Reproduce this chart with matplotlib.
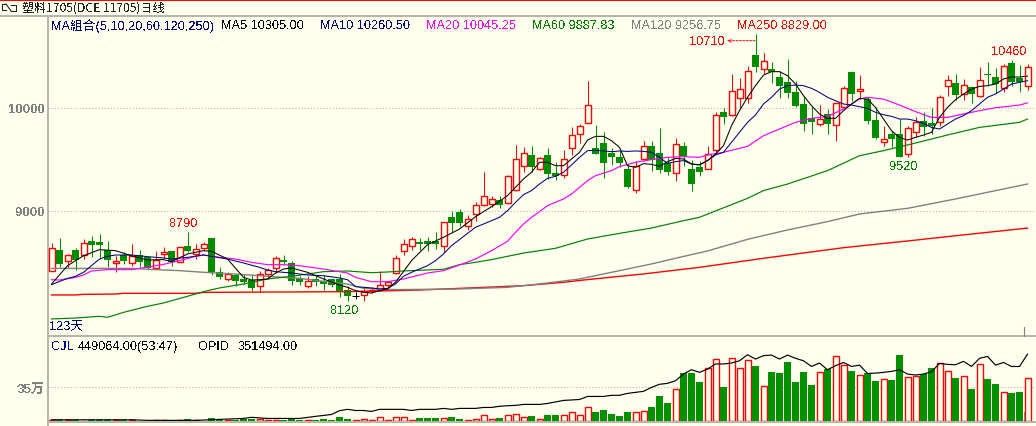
import matplotlib
matplotlib.use("Agg")
import matplotlib.pyplot as plt
from matplotlib.lines import Line2D

W, H = 1036, 427
BG = "#ffffee"
RED = "#ff0000"
GREEN = "#008e00"
NAVY = "#000080"
GRAY = "#808080"
MAGENTA = "#ff00ff"
LINE_GREEN = "#008000"
FRAME = "#b4b4ac"
THIN = 0.72  # about one pixel at dpi 100

plt.rcParams["font.family"] = ["Liberation Sans", "Noto Sans CJK SC", "DejaVu Sans"]
plt.rcParams["text.antialiased"] = False

# daily candles
opens = [8416, 8616, 8506, 8616, 8568, 8704, 8694, 8613, 8487, 8571, 8493, 8571, 8552, 8438, 8581, 8607, 8503, 8655, 8581, 8639,
         8730, 8400, 8335, 8377, 8335, 8325, 8264, 8380, 8438, 8519, 8487, 8341, 8270, 8332, 8312, 8335, 8335, 8231, 8173, 8183,
         8218, 8225, 8280, 8390, 8610, 8659, 8694, 8701, 8701, 8652, 8937, 8982, 8846, 8963, 9057, 9060, 9099, 9070, 9196, 9429,
         9539, 9400, 9539, 9364, 9348, 9604, 9740, 9846, 9607, 9655, 9558, 9519, 9403, 9196, 9503, 9626, 9555, 9461, 9361, 9623,
         9403, 9422, 9400, 9584, 9956, 9924, 10089, 10095, 10513, 10370, 10374, 10293, 10247, 10150, 10034, 9895, 9843, 9937, 9833, 10001,
         10345, 10157, 10082, 9879, 9668, 9739, 9743, 9545, 9765, 9866, 9849, 9856, 10212, 10238, 10134, 10199, 10115, 10325, 10296, 10192,
         10432, 10286, 10212]
highs = [8684, 8733, 8578, 8633, 8723, 8756, 8772, 8701, 8561, 8594, 8675, 8620, 8552, 8604, 8649, 8607, 8642, 8790, 8675, 8697,
         8730, 8448, 8406, 8383, 8383, 8383, 8416, 8438, 8555, 8568, 8513, 8367, 8361, 8361, 8374, 8335, 8383, 8264, 8206, 8254,
         8254, 8409, 8319, 8568, 8723, 8743, 8733, 8740, 8788, 8892, 8998, 9015, 8956, 9079, 9371, 9144, 9138, 9345, 9636, 9613,
         9629, 9519, 9604, 9468, 9587, 9811, 9840, 10257, 9830, 9762, 9604, 9581, 9451, 9484, 9675, 9675, 9798, 9516, 9701, 9668,
         9494, 9477, 9623, 9953, 9995, 10325, 10283, 10400, 10710, 10529, 10438, 10357, 10471, 10260, 10115, 10001, 10024, 9985, 10040, 10212,
         10357, 10319, 10099, 10001, 9824, 9775, 9888, 9824, 9904, 9960, 9995, 10125, 10315, 10325, 10277, 10212, 10390, 10445, 10380, 10422,
         10460, 10412, 10422]
lows = [8416, 8455, 8442, 8426, 8529, 8545, 8529, 8448, 8406, 8481, 8464, 8448, 8432, 8432, 8536, 8464, 8497, 8594, 8529, 8604,
        8374, 8335, 8316, 8270, 8286, 8222, 8205, 8335, 8393, 8474, 8277, 8277, 8244, 8264, 8231, 8254, 8163, 8125, 8141, 8120,
        8199, 8219, 8254, 8384, 8571, 8620, 8620, 8610, 8626, 8600, 8795, 8853, 8814, 8901, 9040, 9031, 9028, 9063, 9189, 9371,
        9371, 9396, 9306, 9299, 9319, 9539, 9659, 9846, 9552, 9316, 9442, 9419, 9219, 9173, 9484, 9387, 9364, 9345, 9290, 9435,
        9193, 9338, 9400, 9571, 9840, 9921, 9998, 10044, 10348, 10325, 10238, 10092, 10092, 10001, 9775, 9743, 9824, 9743, 9678, 9985,
        10066, 10082, 9840, 9694, 9623, 9613, 9519, 9520, 9710, 9726, 9743, 9824, 10115, 10076, 10076, 10044, 10099, 10205, 10141, 10154,
        10212, 10154, 10170]
closes = [8633, 8481, 8568, 8519, 8681, 8665, 8665, 8519, 8506, 8510, 8555, 8500, 8438, 8523, 8594, 8503, 8642, 8607, 8629, 8672,
          8400, 8354, 8380, 8316, 8306, 8251, 8387, 8426, 8536, 8500, 8319, 8303, 8316, 8309, 8283, 8277, 8218, 8173, 8173, 8222,
          8230, 8280, 8303, 8536, 8672, 8720, 8675, 8675, 8675, 8885, 8882, 8882, 8914, 9050, 9144, 9108, 9057, 9332, 9497, 9555,
          9426, 9506, 9358, 9338, 9497, 9730, 9817, 10021, 9552, 9464, 9523, 9464, 9231, 9429, 9623, 9490, 9396, 9377, 9649, 9532,
          9261, 9370, 9545, 9924, 9911, 10157, 10176, 10351, 10396, 10448, 10341, 10212, 10144, 10014, 9843, 9859, 9885, 9840, 10040, 10186,
          10134, 10176, 9869, 9704, 9691, 9694, 9519, 9798, 9856, 9807, 9817, 10099, 10264, 10121, 10215, 10134, 10264, 10312, 10228, 10400,
          10251, 10244, 10390]

# volume in units of 10k lots
volume = [1.7, 1.7, 1.0, 1.0, 0.7, 1.0, 1.0, 1.0, 1.0, 1.0, 1.7, 0.3, 0.3, 1.7, 1.7, 1.7, 1.7, 2.7, 1.7, 0.7,
          3.8, 1.4, 1.4, 1.4, 2.4, 2.1, 2.1, 1.0, 1.7, 1.0, 2.1, 1.0, 1.7, 1.7, 2.7, 1.7, 4.8, 2.7, 1.7, 2.7,
          1.7, 4.8, 1.0, 4.8, 4.8, 1.7, 3.1, 3.1, 3.1, 3.8, 4.1, 2.1, 1.7, 2.7, 6.9, 2.7, 3.1, 6.9, 7.9, 4.8,
          5.1, 2.7, 6.2, 6.2, 6.9, 9.9, 6.9, 15.1, 9.3, 11.3, 7.2, 5.1, 9.3, 9.9, 11.0, 14.4, 25.7, 18.5, 33.6, 49.4,
          49.7, 40.5, 54.5, 63.8, 35.3, 64.8, 54.5, 62.8, 56.9, 36.0, 50.8, 49.7, 61.1, 40.5, 50.8, 37.4, 50.4, 53.9, 66.9, 58.0,
          51.8, 47.3, 49.7, 41.5, 43.2, 42.5, 68.3, 45.3, 47.0, 48.7, 54.9, 59.7, 51.5, 44.6, 46.3, 33.3, 58.7, 43.6, 38.4, 29.8,
          29.2, 30.2, 44.9]

# moving averages, read at the bars where the line is easy to follow
ma5_idx = [0, 2, 4, 6, 8, 10, 12, 14, 15, 17, 19, 20, 22, 24, 25, 26, 27, 28, 29, 30, 32, 34, 36, 37,
           38, 39, 40, 41, 42, 43, 45, 47, 49, 51, 53, 55, 57, 59, 60, 61, 62, 63, 64, 66, 67, 68, 69, 70, 71, 72, 73, 74, 75, 76, 77, 78, 79, 80,
           81, 82, 83, 84, 85, 86, 87, 88, 89, 90, 91, 92, 93, 94, 95, 96, 97, 98, 99, 100, 101, 102, 103, 104, 105, 106, 107, 108, 109, 110,
           111, 112, 113, 114, 115, 116, 117, 118, 119, 120, 121, 122]
ma5 = [8286, 8464, 8561, 8620, 8610, 8561, 8519, 8523, 8503, 8578, 8610, 8604, 8529, 8351, 8325, 8328, 8335, 8393, 8432, 8442, 8400, 8335, 8277, 8254,
       8222, 8206, 8199, 8222, 8238, 8303, 8513, 8668, 8740, 8820, 8940, 9037, 9144, 9306, 9371, 9468, 9468, 9435, 9435, 9565, 9684, 9720, 9720, 9678, 9613, 9435, 9419, 9455, 9448, 9429, 9474, 9506, 9500, 9451,
       9442, 9484, 9548, 9629, 9824, 9969, 10099, 10212, 10315, 10348, 10348, 10309, 10228, 10115, 10018, 9937, 9895, 9895, 9969, 10034, 10089, 10082, 10001, 9888, 9775, 9710, 9684, 9710, 9733, 9759,
       9904, 10001, 10076, 10131, 10179, 10205, 10212, 10228, 10277, 10296, 10296, 10305]

ma10_idx = [0, 2, 3, 4, 6, 7, 8, 10, 12, 14, 15, 17, 19, 20, 22, 24, 26, 27, 28, 30, 32, 34, 36, 37,
            38, 40, 41, 42, 43, 44, 45, 46, 47, 48, 49, 50, 51, 52, 53, 54, 55, 56, 57, 58, 59, 60, 61, 62, 63, 64, 65, 66, 67, 68, 69, 70, 71, 72, 73, 74, 75, 76, 77, 78, 79,
            80, 81, 82, 83, 84, 85, 86, 87, 88, 89, 90, 91, 92, 93, 94, 95, 96, 97, 98, 99, 100, 101, 102, 103, 104, 105, 106, 107, 108, 109, 110,
            111, 112, 113, 114, 115, 116, 117, 118, 119, 120, 121, 122]
ma10 = [8280, 8341, 8361, 8400, 8529, 8555, 8568, 8568, 8552, 8539, 8529, 8545, 8568, 8555, 8529, 8490, 8448, 8422, 8406, 8393, 8374, 8367, 8345, 8328,
        8261, 8248, 8238, 8244, 8287, 8361, 8400, 8432, 8464, 8513, 8578, 8659, 8717, 8778, 8837, 8869, 8901, 8934, 8998, 9079, 9154, 9193, 9257, 9312, 9332, 9371, 9442, 9516, 9581, 9584, 9578, 9571, 9578, 9574, 9578, 9574, 9565, 9516, 9458, 9474, 9484,
        9451, 9445, 9484, 9539, 9565, 9662, 9759, 9856, 9927, 10034, 10099, 10179, 10212, 10218, 10212, 10186, 10147, 10099, 10066, 10034, 10024, 10008, 9992, 9953, 9930, 9914, 9888, 9888, 9872, 9846, 9807,
        9791, 9840, 9888, 9921, 9969, 10034, 10099, 10131, 10179, 10228, 10244, 10260]

ma20_idx = [0, 1, 3, 4, 5, 7, 10, 11, 14, 16, 18, 19, 21, 23, 25, 27, 29, 31, 34, 36, 37,
            38, 40, 42, 44, 47, 49, 51, 53, 55, 57, 58, 59, 60, 61, 62, 64, 65, 66, 67, 68, 70, 71, 73, 75, 77, 79, 81,
            82, 84, 87, 89, 91, 93, 95, 97, 99, 101, 102, 104, 106, 108, 110, 112, 114, 116, 118, 121, 122]
ma20 = [8328, 8325, 8351, 8374, 8413, 8426, 8426, 8438, 8477, 8513, 8555, 8568, 8545, 8529, 8497, 8474, 8474, 8464, 8432, 8406, 8393,
        8351, 8309, 8309, 8335, 8393, 8416, 8471, 8529, 8610, 8701, 8788, 8869, 8934, 8989, 9047, 9112, 9160, 9225, 9290, 9338, 9387, 9426, 9468, 9494, 9516, 9523, 9516,
        9539, 9565, 9623, 9726, 9791, 9856, 9895, 9914, 9985, 10082, 10099, 10082, 10024, 9960, 9904, 9904, 9937, 9969, 9998, 10024, 10045]

ma60_idx = [0, 3, 6, 7, 9, 12, 14, 17, 19, 21, 24, 27, 30, 32, 34, 37, 40, 42, 44, 49, 51, 53, 55, 59, 63, 67, 71, 75, 79, 81,
            87, 89, 92, 97, 101, 104, 108, 112, 116, 121, 122]
ma60 = [7947, 7956, 7973, 7963, 8011, 8070, 8102, 8167, 8212, 8248, 8286, 8335, 8361, 8383, 8406, 8413, 8396, 8403, 8413, 8429, 8474, 8497, 8523, 8587, 8633, 8723, 8778, 8830, 8901, 8934,
        9118, 9193, 9257, 9387, 9532, 9581, 9655, 9733, 9807, 9856, 9888]

ma120_idx = [0, 8, 10, 13, 16, 19, 23, 27, 31, 35, 37, 39, 43, 51, 57, 61, 66, 70, 75, 78, 82, 87, 92, 97, 101, 107, 113, 118, 122]
ma120 = [8438, 8438, 8438, 8426, 8416, 8400, 8383, 8361, 8341, 8303, 8286, 8244, 8232, 8238, 8254, 8287, 8335, 8400, 8481, 8536, 8607, 8720, 8811, 8892, 8966, 9021, 9112, 9193, 9257]

ma250_idx = [0, 3, 4, 8, 9, 18, 19, 37, 43, 46, 51, 59, 64, 67, 74, 81, 89, 99, 107, 113, 122]
ma250 = [8180, 8180, 8186, 8189, 8196, 8196, 8205, 8212, 8222, 8228, 8244, 8270, 8303, 8329, 8384, 8448, 8536, 8639, 8704, 8755, 8829]

# open interest, 10k lots
opid_idx = [0, 10, 12, 18, 21, 24, 25, 27, 31, 33, 35, 36, 37, 38, 39, 40, 41, 44, 45, 46, 48, 49, 50, 51, 53, 54, 55, 56, 57, 58, 59, 61, 62, 64, 66, 67, 69, 70, 71, 72, 74, 75, 76, 77, 78, 79,
            80, 81, 82, 83, 84, 85, 86, 87, 88, 89, 90, 91, 92, 93, 94, 95, 96, 97, 98, 99, 100, 101, 102, 103, 104, 105, 106, 107, 108, 109, 110,
            111, 112, 113, 114, 115, 116, 117, 118, 119, 120, 121, 122]
opid = [0.5, 0.5, 0.2, 0.2, 0.7, 1.2, 1.8, 1.2, 1.2, 2.3, 3.3, 5.3, 6.0, 5.4, 5.4, 4.9, 6.0, 6.0, 5.4, 6.0, 6.0, 6.5, 6.0, 6.5, 6.5, 7.0, 7.0, 7.6, 7.9, 8.1, 8.6, 8.6, 9.1, 10.7, 11.2, 12.8, 12.8, 13.4, 13.4, 14.4, 15.5, 17.6, 19.2, 19.7, 21.1, 24.6,
        26.9, 25.5, 27.2, 29.9, 29.9, 30.4, 31.6, 34.8, 32.5, 34.3, 34.6, 32.5, 34.6, 32.9, 31.6, 28.6, 30.4, 26.9, 29.0, 30.7, 28.6, 29.3, 24.9, 25.1, 25.5, 26.0, 26.9, 24.6, 24.1, 24.6, 25.8,
        30.2, 29.7, 29.5, 31.3, 28.6, 32.9, 33.9, 29.3, 30.7, 28.6, 28.6, 35.1]

price_ticks = [9000, 10000]
price_labels = ["9000", "10000"]
vol_ticks = [35]
vol_labels = ["35万"]

header = [("MA組合(5,10,20,60,120,250)", 51, NAVY), ("MA5 10305.00", 221, "black"), ("MA10 10260.50", 320, NAVY),
          ("MA20 10045.25", 426, MAGENTA), ("MA60 9887.83", 532, LINE_GREEN), ("MA120 9256.75", 631, GRAY),
          ("MA250 8829.00", 737, RED)]


def fx(px):
    return px / W


def fy(px):
    return 1 - px / H


def panel(top, bottom):
    ax = fig.add_axes([fx(47.5), fy(bottom), fx(W - 47.5), (bottom - top) / H])
    ax.set_facecolor("none")
    for side in ["top", "right", "bottom"]:
        ax.spines[side].set_visible(False)
    ax.spines["left"].set_color(FRAME)
    ax.spines["left"].set_linewidth(1.4)
    ax.set_xlim((47.5 - 51.5) / 8, (W - 51.5) / 8)
    ax.set_xticks([])
    ax.tick_params(axis="y", length=0, pad=2, labelcolor=GRAY, labelsize=9.5)
    ax.grid(axis="y", color="#b0b0a8", linestyle=(0, (1, 2)), linewidth=0.75)
    ax.set_axisbelow(True)
    return ax


fig = plt.figure(figsize=(W / 100, H / 100), dpi=100, facecolor=BG)
ax = panel(17.3, 337.3)
ax.set_ylim(7778.6, 10885.5)
ax.set_yticks(price_ticks, price_labels, fontweight="bold")

days = list(range(len(closes)))
up = [c > o for o, c in zip(opens, closes)]
flat = [c == o for o, c in zip(opens, closes)]
wick_colors = ["black" if f else (RED if u else GREEN) for u, f in zip(up, flat)]
ax.vlines(days, lows, highs, colors=wick_colors, linewidth=THIN, zorder=2)

for d, o, c, u, f in zip(days, opens, closes, up, flat):
    if f:
        ax.hlines(c, d - 0.4, d + 0.4, colors="black", linewidth=THIN, zorder=3)
    elif u:
        ax.bar(d, c - o, bottom=o, width=0.75, facecolor=BG, edgecolor=RED, linewidth=1.0, zorder=3)
    else:
        ax.bar(d, o - c, bottom=c, width=0.875, facecolor=GREEN, edgecolor="none", zorder=3, antialiased=False)

ma_styles = [(ma250_idx, ma250, RED, 1.0), (ma120_idx, ma120, GRAY, 1.0), (ma60_idx, ma60, LINE_GREEN, 0.85),
             (ma20_idx, ma20, MAGENTA, 0.85), (ma10_idx, ma10, NAVY, 0.75), (ma5_idx, ma5, "black", 0.75)]
for idx, vals, color, lw in ma_styles:
    ax.plot(idx, vals, color=color, linewidth=lw, zorder=4)

# volume panel
ax_v = panel(337.3, 422.3)
ax_v.set_ylim(0, 87.5)
ax_v.set_yticks(vol_ticks, vol_labels, fontweight="bold")
for d, v, c, o in zip(days, volume, closes, opens):
    if c >= o:
        ax_v.bar(d, v, width=0.75, facecolor=BG, edgecolor=RED, linewidth=1.0, zorder=3)
    else:
        ax_v.bar(d, v, width=0.875, facecolor="#009000", edgecolor="none", zorder=3, antialiased=False)
ax_oi = ax_v.twinx()
ax_oi.set_ylim(-0.3, 44.5)
ax_oi.axis("off")
ax_oi.plot(opid_idx, opid, color="black", linewidth=0.85, zorder=5)

# frame lines
frame_lines = [(0, W, 0.8, 0.8, RED, 1.5), (0, W, 17.3, 17.3, FRAME, 1.4), (47.5, W, 337.3, 337.3, FRAME, 1.4),
               (47.5, W, 422.5, 422.5, FRAME, 1.4), (47.5, 47.5, 422, H, FRAME, 1.4),
               (1023.5, 1023.5, 328, 337, GRAY, 0.8), (1023.5, 1023.5, 413, 422, GRAY, 0.8)]
for x0, x1, y0, y1, color, lw in frame_lines:
    fig.add_artist(Line2D([fx(x0), fx(x1)], [fy(y0), fy(y1)], color=color, linewidth=lw))

# small title icon
for xs, ys in [([6, 2, 2, 6], [5, 5, 11, 11]), ([6, 11], [5, 12]), ([11, 16, 16, 11], [6, 6, 12, 12])]:
    fig.add_artist(Line2D([fx(v) for v in xs], [fy(v) for v in ys], color="#202020", linewidth=0.75))

fig.text(fx(22), fy(8.5), "塑料1705(DCE 11705)日线", fontsize=8.7, color="#202020", va="center",
         family=["Noto Sans CJK SC", "DejaVu Sans"])
for label, x, color in header:
    fig.text(fx(x), fy(26), label, fontsize=9.2, color=color, va="center")

fig.text(fx(51), fy(347), "CJL", fontsize=9.2, color=NAVY, va="center")
fig.text(fx(78), fy(347), "449064.00(53:47)", fontsize=9.2, color="black", va="center")
fig.text(fx(198), fy(347), "OPID", fontsize=9.2, color="black", va="center")
fig.text(fx(238), fy(347), "351494.00", fontsize=9.2, color="black", va="center")

marks = [("8790", 184, 224, RED), ("8120", 345, 311, LINE_GREEN), ("10710", 707, 42, RED),
         ("9520", 904, 167.5, LINE_GREEN), ("10460", 1009, 52, RED)]
for label, x, y, color in marks:
    fig.text(fx(x), fy(y), label, fontsize=9.2, color=color, ha="center", va="center")
fig.text(fx(49), fy(327), "123天", fontsize=9.2, color=NAVY, va="center")

ax.annotate("", xy=(fx(727), fy(41.7)), xytext=(fx(755), fy(41.7)), xycoords="figure fraction",
            textcoords="figure fraction",
            arrowprops=dict(arrowstyle="->", color=RED, linewidth=0.7, linestyle=(0, (2, 1.5)), mutation_scale=6,
                            shrinkA=0, shrinkB=0))

fig.savefig("out.png", dpi=100, facecolor=BG)
